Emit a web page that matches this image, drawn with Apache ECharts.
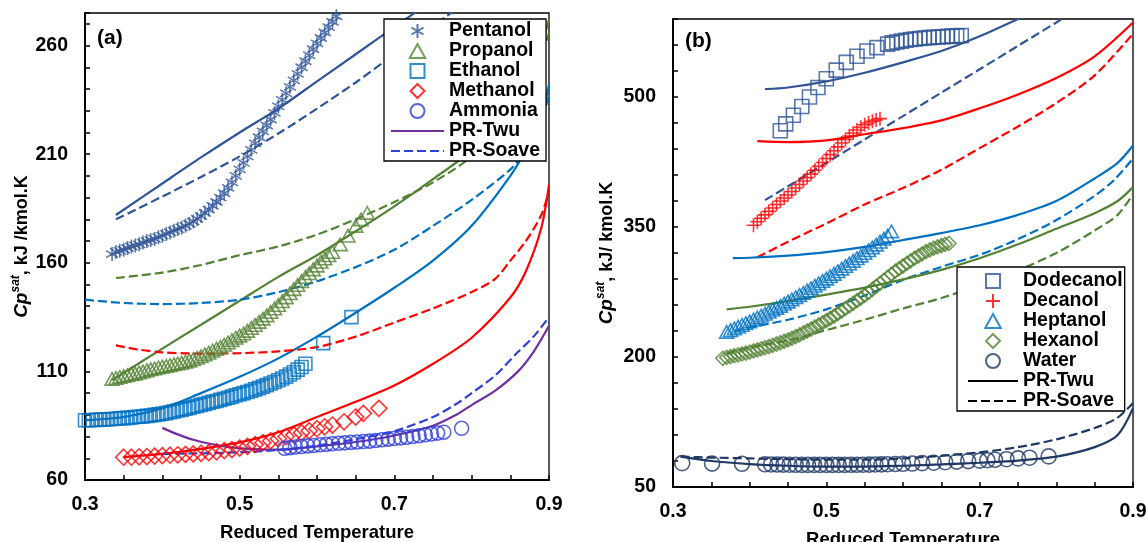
<!DOCTYPE html>
<html>
<head>
<meta charset="utf-8">
<script src="https://cdn.jsdelivr.net/npm/echarts@6/dist/echarts.min.js"></script>
<style>
  html, body { margin: 0; padding: 0; background: #fff; }
  #chart { width: 1146px; height: 542px; }
</style>
</head>
<body>
<div id="chart"></div>
<script>
// ---------- Panel (a): measured Cp_sat [Tr, kJ/kmol.K] ----------
const pentanolPts = [[0.335,164],[0.34,165],[0.345,165.5],[0.35,166],[0.355,166.8],[0.36,167.5],[0.365,168],[0.37,168.5],[0.375,169.3],[0.38,170],[0.385,170.5],[0.39,171],[0.395,171.8],[0.40,172.5],[0.405,173.3],[0.41,174],[0.415,174.8],[0.42,175.5],[0.425,176.3],[0.43,177],[0.435,178],[0.44,179],[0.445,180.2],[0.45,181.5],[0.455,183],[0.46,184.5],[0.465,186.2],[0.47,188],[0.475,190],[0.48,192],[0.485,194.5],[0.49,197],[0.495,200],[0.50,203],[0.505,206],[0.51,209],[0.515,212],[0.52,215],[0.525,217.8],[0.53,220.5],[0.535,223.2],[0.54,226],[0.545,229],[0.55,232],[0.555,235],[0.56,238],[0.565,241],[0.57,244],[0.575,247],[0.58,250],[0.585,252.8],[0.59,255.5],[0.595,258.3],[0.60,261],[0.605,263.5],[0.61,266],[0.615,268.5],[0.62,271],[0.625,273.5],[0.63,276]];
const propanolPts = [[0.335,106.5],[0.34,107],[0.345,107.5],[0.35,107.9],[0.355,108.3],[0.36,108.7],[0.365,109],[0.37,109.5],[0.375,110],[0.38,110.5],[0.385,111],[0.39,111.4],[0.395,111.8],[0.40,112.2],[0.405,112.5],[0.41,112.9],[0.415,113.3],[0.42,113.7],[0.425,114],[0.43,114.5],[0.435,115],[0.44,115.6],[0.445,116.3],[0.45,117],[0.455,117.8],[0.46,118.6],[0.465,119.5],[0.47,120.4],[0.475,121.3],[0.48,122.3],[0.485,123.3],[0.49,124.4],[0.495,125.5],[0.50,126.5],[0.505,127.5],[0.51,128.7],[0.515,130],[0.52,131.4],[0.525,132.8],[0.53,134.3],[0.535,135.8],[0.54,137.4],[0.545,139],[0.55,140.6],[0.555,142.3],[0.56,144.1],[0.565,146],[0.57,147.9],[0.575,149.8],[0.58,151.6],[0.585,153.5],[0.59,155.2],[0.595,157],[0.60,158.7],[0.605,160.5],[0.61,162],[0.615,163.5],[0.62,165],[0.63,168.5],[0.64,172.5],[0.65,177],[0.657,180],[0.665,183]];
const ethanolPts = [[0.30,87.5],[0.305,87.5],[0.31,87.6],[0.315,87.7],[0.32,87.8],[0.325,87.9],[0.33,88],[0.335,88.1],[0.34,88.2],[0.345,88.4],[0.35,88.5],[0.355,88.6],[0.36,88.8],[0.365,89],[0.37,89.1],[0.375,89.3],[0.38,89.5],[0.385,89.7],[0.39,90],[0.395,90.2],[0.40,90.5],[0.405,90.8],[0.41,91.2],[0.415,91.6],[0.42,92],[0.425,92.4],[0.43,92.8],[0.435,93.2],[0.44,93.7],[0.445,94.1],[0.45,94.6],[0.455,95],[0.46,95.5],[0.465,96],[0.47,96.4],[0.475,96.9],[0.48,97.4],[0.485,97.9],[0.49,98.4],[0.495,99],[0.50,99.5],[0.505,100],[0.51,100.5],[0.515,101.1],[0.52,101.7],[0.525,102.3],[0.53,103],[0.535,103.7],[0.54,104.4],[0.545,105.1],[0.55,105.9],[0.555,106.7],[0.56,107.6],[0.565,108.6],[0.57,109.6],[0.575,110.8],[0.58,112],[0.585,113.5],[0.608,123],[0.6445,135]];
const methanolPts = [[0.35,70.5],[0.36,70.5],[0.37,70.7],[0.38,70.8],[0.39,71],[0.40,71.2],[0.41,71.4],[0.42,71.6],[0.43,71.8],[0.44,72],[0.45,72.3],[0.46,72.6],[0.47,73],[0.48,73.5],[0.49,74],[0.50,74.7],[0.51,75.5],[0.52,76.3],[0.53,77.2],[0.54,78],[0.55,79],[0.56,80],[0.57,80.8],[0.58,81.8],[0.59,82.7],[0.60,83.6],[0.61,84.5],[0.62,85.3],[0.635,86.8],[0.65,89],[0.66,90.7],[0.68,93]];
const ammoniaPts = [[0.558,74.6],[0.565,74.9],[0.572,75.2],[0.58,75.4],[0.588,75.7],[0.596,75.9],[0.604,76.2],[0.612,76.4],[0.62,76.7],[0.628,76.9],[0.636,77.1],[0.644,77.3],[0.652,77.5],[0.66,77.7],[0.668,77.9],[0.676,78.2],[0.684,78.5],[0.692,78.8],[0.70,79.1],[0.708,79.4],[0.716,79.7],[0.724,80],[0.732,80.4],[0.74,80.8],[0.748,81.2],[0.756,81.6],[0.764,82],[0.787,83.8]];

// ---------- Panel (a): PR-Twu / PR-Soave predictions ----------
const pentanolTwu = [[0.34,182],[0.40,196.5],[0.45,208.5],[0.50,220],[0.55,231],[0.60,243.5],[0.65,256],[0.70,268.5],[0.75,281]];
const pentanolSoave = [[0.34,180],[0.40,190.5],[0.45,199.5],[0.50,209],[0.55,219.5],[0.60,231],[0.65,243],[0.70,256],[0.75,269],[0.80,282]];
const propanolTwu = [[0.335,106],[0.40,120.5],[0.45,131.5],[0.50,142.5],[0.55,153.5],[0.60,163.5],[0.65,174.5],[0.70,186],[0.75,198.5],[0.80,212],[0.85,233],[0.88,250],[0.90,272]];
const propanolSoave = [[0.34,153],[0.40,155.5],[0.45,159],[0.50,163.5],[0.55,167.5],[0.60,173],[0.65,180],[0.70,188],[0.75,197],[0.80,209],[0.85,228],[0.88,245],[0.90,266]];
const ethanolTwu = [[0.30,87.5],[0.35,89],[0.40,93],[0.45,100],[0.50,107.5],[0.55,116],[0.60,126],[0.65,137],[0.70,148.5],[0.75,161],[0.80,177],[0.85,200],[0.87,212],[0.89,228],[0.90,242]];
const ethanolSoave = [[0.30,143],[0.35,141.5],[0.40,141],[0.45,141.5],[0.50,143],[0.55,146.5],[0.60,151.5],[0.65,158],[0.70,166],[0.75,177],[0.80,189],[0.85,203],[0.87,212],[0.89,226],[0.90,237]];
const methanolTwu = [[0.35,70.5],[0.40,72],[0.45,74.3],[0.50,77.3],[0.55,82],[0.60,89],[0.65,96],[0.70,103.5],[0.75,113.5],[0.80,125.5],[0.85,144],[0.87,156],[0.89,176],[0.90,196]];
const methanolSoave = [[0.34,122],[0.37,120],[0.40,118.8],[0.43,118.3],[0.45,118.2],[0.50,118.4],[0.55,119.2],[0.60,121.2],[0.65,126],[0.70,132.5],[0.75,139],[0.80,146.5],[0.83,152.5],[0.85,161],[0.87,170],[0.89,182],[0.90,193]];
const ammoniaTwu = [[0.40,84],[0.42,81],[0.44,78.5],[0.46,76.8],[0.48,75.5],[0.50,74.6],[0.55,74],[0.60,75.5],[0.65,77.5],[0.70,80.5],[0.75,85],[0.78,90],[0.80,94.5],[0.83,101],[0.86,110],[0.88,119],[0.90,131]];
const ammoniaSoave = [[0.40,72],[0.45,72.3],[0.50,72.8],[0.55,73.8],[0.60,75.8],[0.65,78.8],[0.70,82.5],[0.75,89],[0.78,95],[0.80,100],[0.83,108],[0.86,119],[0.88,126],[0.90,135]];

// ---------- Panel (b): measured Cp_sat ----------
const dodecanolPts = [[0.44,461],[0.447,469],[0.457,479],[0.468,489],[0.478,500],[0.489,511],[0.50,521],[0.513,531],[0.526,540],[0.54,547],[0.553,553],[0.566,557],[0.58,561],[0.586,562.5],[0.592,563.5],[0.598,564.5],[0.604,565.5],[0.61,566.3],[0.616,567],[0.622,567.5],[0.628,568],[0.634,568.5],[0.64,569],[0.646,569.3],[0.652,569.6],[0.658,569.9],[0.664,570.2],[0.67,570.5],[0.676,570.8]];
const decanolPts = [[0.405,352],[0.41,356],[0.415,360],[0.42,364],[0.425,368],[0.43,372],[0.435,376],[0.44,380],[0.445,383.5],[0.45,387],[0.455,391],[0.46,395],[0.465,399],[0.47,403],[0.475,407],[0.48,411],[0.485,415.5],[0.49,420],[0.495,424.5],[0.50,429],[0.505,433.5],[0.51,438],[0.515,442.5],[0.52,447],[0.525,451],[0.53,455],[0.535,458.5],[0.54,462],[0.545,465],[0.55,468],[0.555,470],[0.56,472],[0.565,473.5],[0.57,475]];
const heptanolPts = [[0.37,229],[0.375,231],[0.38,233],[0.385,235],[0.39,237],[0.395,239],[0.40,241],[0.405,243.2],[0.41,245.5],[0.415,247.7],[0.42,250],[0.425,252.2],[0.43,254.5],[0.435,256.7],[0.44,259],[0.445,261.5],[0.45,264],[0.455,266.5],[0.46,269],[0.465,271.5],[0.47,274],[0.475,276.7],[0.48,279.5],[0.485,282.2],[0.49,285],[0.495,287.7],[0.50,290.5],[0.505,293.2],[0.51,296],[0.515,299],[0.52,302],[0.525,305],[0.53,308],[0.535,311],[0.54,314],[0.545,317],[0.55,320],[0.555,323.2],[0.56,326.5],[0.565,329.7],[0.57,333],[0.575,336.5],[0.58,340],[0.585,345]];
const hexanolPts = [[0.365,198.5],[0.37,199.5],[0.375,200.5],[0.38,201.5],[0.385,202.5],[0.39,203.5],[0.395,204.5],[0.40,205.7],[0.405,207],[0.41,208.2],[0.415,209.5],[0.42,210.7],[0.425,212],[0.43,213.5],[0.435,215],[0.44,216.5],[0.445,218],[0.45,219.7],[0.455,221.5],[0.46,223.5],[0.465,225.5],[0.47,227.7],[0.475,230],[0.48,232.2],[0.485,234.5],[0.49,237],[0.495,239.5],[0.50,242],[0.505,244.5],[0.51,247.2],[0.515,250],[0.52,253],[0.525,256],[0.53,259],[0.535,262],[0.54,265],[0.545,268],[0.55,271],[0.555,274.5],[0.56,278],[0.565,281.5],[0.57,285],[0.575,288.5],[0.58,292],[0.585,295.5],[0.59,299],[0.595,302],[0.60,305],[0.605,308],[0.61,311],[0.615,314],[0.62,316.5],[0.625,319],[0.63,321.5],[0.635,323.5],[0.64,325.5],[0.645,327],[0.65,328.5],[0.655,330],[0.66,331]];
const waterPts = [[0.312,77.5],[0.351,77],[0.39,76.8],[0.42,76.2],[0.428,76],[0.436,75.9],[0.444,75.8],[0.452,75.7],[0.46,75.6],[0.468,75.5],[0.476,75.5],[0.484,75.5],[0.492,75.5],[0.50,75.5],[0.508,75.5],[0.516,75.5],[0.524,75.5],[0.532,75.6],[0.54,75.6],[0.548,75.7],[0.556,75.8],[0.564,76],[0.572,76.1],[0.58,76.3],[0.59,76.5],[0.60,76.8],[0.612,77.1],[0.625,77.5],[0.64,78],[0.655,78.6],[0.67,79.3],[0.685,79.9],[0.70,80.4],[0.71,80.9],[0.72,81.4],[0.735,82.1],[0.75,83],[0.765,83.8],[0.79,85.3]];

// ---------- Panel (b): PR-Twu / PR-Soave predictions ----------
const dodecanolTwu = [[0.42,509],[0.45,511],[0.50,518],[0.55,528],[0.60,540],[0.65,553],[0.70,570],[0.75,590],[0.76,594]];
const dodecanolSoave = [[0.42,381],[0.45,397],[0.50,424],[0.55,451],[0.60,478],[0.65,505],[0.70,532],[0.75,559],[0.80,586],[0.82,597]];
const decanolTwu = [[0.41,449],[0.45,448],[0.50,450],[0.55,457],[0.60,464],[0.65,473],[0.70,487],[0.75,503],[0.80,522],[0.85,547],[0.90,586]];
const decanolSoave = [[0.41,315],[0.45,333],[0.50,354],[0.55,376],[0.60,395],[0.65,416],[0.70,441],[0.75,466],[0.80,493],[0.85,525],[0.90,573]];
const heptanolTwu = [[0.378,314],[0.40,314.5],[0.45,317],[0.50,321],[0.55,327],[0.60,335],[0.65,343],[0.70,352],[0.75,364],[0.80,380],[0.85,406],[0.88,424],[0.90,444]];
const heptanolSoave = [[0.38,230],[0.40,234],[0.45,243],[0.50,255],[0.55,271],[0.60,289],[0.65,304],[0.70,318],[0.75,336],[0.80,358],[0.85,386],[0.875,404],[0.90,429]];
const hexanolTwu = [[0.37,255],[0.40,258],[0.45,264.5],[0.50,272],[0.55,280],[0.60,289.5],[0.65,300.5],[0.70,314],[0.75,330],[0.80,348],[0.85,366],[0.88,380],[0.90,396]];
const hexanolSoave = [[0.37,204],[0.40,211],[0.45,219],[0.50,231],[0.55,243],[0.60,256],[0.65,268],[0.70,283],[0.75,300],[0.80,320],[0.85,346],[0.88,364],[0.90,388]];
const waterTwu = [[0.31,85],[0.35,80],[0.40,76.5],[0.45,74.5],[0.50,73.5],[0.55,73.5],[0.60,74.5],[0.65,76],[0.70,78],[0.75,80.5],[0.80,85],[0.85,96],[0.88,110],[0.90,141]];
const waterSoave = [[0.31,85],[0.35,84],[0.40,83],[0.45,82],[0.50,81.5],[0.55,81.5],[0.60,83],[0.65,86],[0.70,90],[0.75,96],[0.80,105],[0.85,118],[0.88,130],[0.90,147]];

// ---------- Tick labels ----------
const xTickLabels = [0.3, 0.5, 0.7, 0.9];
const yTickLabelsA = [60, 110, 160, 210, 260];
const yTickLabelsB = [50, 200, 350, 500];

// ---------- Styling ----------
const FONT = '"Liberation Sans", Arial, sans-serif';
const C = {
  dkblue: '#2F5597', green: '#548235', blue: '#0070C0', red: '#FF0000',
  ammonia: '#3040D8', purple: '#7030A0', navy: '#1F3864', black: '#000000'
};
const DASH = [9, 4];
// outline marker shapes as paths so legend icons keep a square aspect
const SQUARE = 'path://M0,0L10,0L10,10L0,10Z';
const TRIANGLE = 'path://M5,0L10,9L0,9Z';
const DIAMOND = 'path://M5,0L10,5L5,10L0,5Z';
const ASTERISK = 'path://M5,0L5,10M0.67,2.5L9.33,7.5M0.67,7.5L9.33,2.5';
const PLUS = 'path://M5,0L5,10M0,5L10,5';

function markers(name, data, symbol, color, size, idx) {
  return {
    name, type: 'scatter', xAxisIndex: idx, yAxisIndex: idx, data,
    symbol, symbolSize: size, symbolKeepAspect: true, z: 3, silent: true,
    itemStyle: { color: 'rgba(255,255,255,0)', borderColor: color, borderWidth: 1.6 },
    emphasis: { disabled: true }
  };
}
function curve(name, data, color, dashed, idx) {
  return {
    name, type: 'line', xAxisIndex: idx, yAxisIndex: idx, data,
    smooth: 0.3, symbol: 'none', showSymbol: false, z: 2, silent: true,
    itemStyle: { color: 'rgba(0,0,0,0)', borderWidth: 0 },
    lineStyle: { color, width: 2.2, type: dashed ? DASH : 'solid' },
    emphasis: { disabled: true }
  };
}
// line-only entries for the legend (no marker in the icon)
function key(name, color, dashed, idx) {
  return curve(name, [], color, dashed, idx);
}
const near = (list, v) => list.some(t => Math.abs(t - v) < 1e-6);

function xAxisFor(idx) {
  return {
    gridIndex: idx, type: 'value', min: 0.3, max: 0.9, interval: 0.05,
    axisLine: { onZero: false, lineStyle: { color: '#000', width: 2 } },
    axisTick: { inside: true, length: 5, lineStyle: { color: '#000', width: 1.5 } },
    splitLine: { show: false },
    axisLabel: {
      margin: 15, color: '#000', fontFamily: FONT, fontWeight: 'bold', fontSize: 19.5,
      formatter: v => near(xTickLabels, v) ? v.toFixed(1) : ''
    },
    name: 'Reduced Temperature', nameLocation: 'middle', nameGap: 43,
    nameTextStyle: { color: '#000', fontFamily: FONT, fontWeight: 'bold', fontSize: 18.5 }
  };
}
function yAxisFor(idx, min, max, interval, labels, unitText, gap) {
  return {
    gridIndex: idx, type: 'value', min, max, interval,
    axisLine: { onZero: false, lineStyle: { color: '#000', width: 2 } },
    axisTick: { inside: true, length: 5, lineStyle: { color: '#000', width: 1.5 } },
    splitLine: { show: false },
    axisLabel: {
      margin: 17, color: '#000', fontFamily: FONT, fontWeight: 'bold', fontSize: 19.5,
      formatter: v => near(labels, v) ? String(v) : ''
    },
    name: '{i|Cp}{s|sat}{t|' + unitText + '}', nameLocation: 'middle', nameGap: gap,
    nameTextStyle: {
      color: '#000', fontFamily: FONT, fontWeight: 'bold', fontSize: 18,
      rich: {
        i: { fontFamily: FONT, fontWeight: 'bold', fontStyle: 'italic', fontSize: 19, lineHeight: 24, color: '#000' },
        s: { fontFamily: FONT, fontWeight: 'bold', fontStyle: 'italic', fontSize: 12, lineHeight: 12, verticalAlign: 'top', color: '#000' },
        t: { fontFamily: FONT, fontWeight: 'bold', fontSize: 18, lineHeight: 24, color: '#000' }
      }
    }
  };
}
const legendText = { color: '#000', fontFamily: FONT, fontWeight: 'bold', fontSize: 19.5 };

const option = {
  animation: false,
  backgroundColor: '#fff',
  title: [
    { text: '(a)', left: 97, top: 28, padding: 0, textStyle: { color: '#000', fontFamily: FONT, fontWeight: 'bold', fontSize: 21 } },
    { text: '(b)', left: 685, top: 31, padding: 0, textStyle: { color: '#000', fontFamily: FONT, fontWeight: 'bold', fontSize: 21 } }
  ],
  grid: [
    { left: 85, top: 13, width: 464, height: 467, outerBoundsMode: 'none', containLabel: false,
      show: true, borderColor: '#000', borderWidth: 1.3, backgroundColor: 'transparent' },
    { left: 673, top: 19, width: 460, height: 468, outerBoundsMode: 'none', containLabel: false,
      show: true, borderColor: '#000', borderWidth: 1.3, backgroundColor: 'transparent' }
  ],
  xAxis: [xAxisFor(0), xAxisFor(1)],
  yAxis: [
    yAxisFor(0, 60, 275, 10, yTickLabelsA, ', kJ /kmol.K', 50),
    yAxisFor(1, 50, 590, 30, yTickLabelsB, ', kJ/ kmol.K', 54)
  ],
  legend: [
    {
      left: 384, top: 19, orient: 'vertical', padding: [2, 6, 0, 6], itemGap: 0,
      itemWidth: 53, itemHeight: 14, symbolKeepAspect: true,
      backgroundColor: '#fff', borderColor: '#000', borderWidth: 1.3,
      selectedMode: false, z: 10, textStyle: legendText,
      data: ['Pentanol', 'Propanol', 'Ethanol', 'Methanol', 'Ammonia', 'PR-Twu', 'PR-Soave']
    },
    {
      left: 957, top: 267, orient: 'vertical', padding: [4, 2, 0, 10], itemGap: 0,
      itemWidth: 50, itemHeight: 14, symbolKeepAspect: true,
      backgroundColor: '#fff', borderColor: '#000', borderWidth: 1.3,
      selectedMode: false, z: 10, textStyle: legendText,
      formatter: name => name.split('|')[0],
      data: ['Dodecanol', 'Decanol', 'Heptanol', 'Hexanol', 'Water', 'PR-Twu|b', 'PR-Soave|b']
    }
  ],
  series: [
    // panel (a) model curves
    curve('Pentanol Twu', pentanolTwu, C.dkblue, false, 0),
    curve('Pentanol Soave', pentanolSoave, C.dkblue, true, 0),
    curve('Propanol Twu', propanolTwu, C.green, false, 0),
    curve('Propanol Soave', propanolSoave, C.green, true, 0),
    curve('Ethanol Twu', ethanolTwu, C.blue, false, 0),
    curve('Ethanol Soave', ethanolSoave, C.blue, true, 0),
    curve('Methanol Twu', methanolTwu, C.red, false, 0),
    curve('Methanol Soave', methanolSoave, C.red, true, 0),
    curve('Ammonia Twu', ammoniaTwu, C.purple, false, 0),
    curve('Ammonia Soave', ammoniaSoave, C.ammonia, true, 0),
    // panel (a) measurements
    markers('Pentanol', pentanolPts, ASTERISK, C.dkblue, 14, 0),
    markers('Propanol', propanolPts, TRIANGLE, C.green, 14, 0),
    markers('Ethanol', ethanolPts, SQUARE, C.blue, 13, 0),
    markers('Methanol', methanolPts, DIAMOND, C.red, 16, 0),
    markers('Ammonia', ammoniaPts, 'circle', C.ammonia, 14, 0),
    key('PR-Twu', C.purple, false, 0),
    key('PR-Soave', C.ammonia, true, 0),
    // panel (b) model curves
    curve('Dodecanol Twu', dodecanolTwu, C.dkblue, false, 1),
    curve('Dodecanol Soave', dodecanolSoave, C.dkblue, true, 1),
    curve('Decanol Twu', decanolTwu, C.red, false, 1),
    curve('Decanol Soave', decanolSoave, C.red, true, 1),
    curve('Heptanol Twu', heptanolTwu, C.blue, false, 1),
    curve('Heptanol Soave', heptanolSoave, C.blue, true, 1),
    curve('Hexanol Twu', hexanolTwu, C.green, false, 1),
    curve('Hexanol Soave', hexanolSoave, C.green, true, 1),
    curve('Water Twu', waterTwu, C.navy, false, 1),
    curve('Water Soave', waterSoave, C.navy, true, 1),
    // panel (b) measurements
    markers('Dodecanol', dodecanolPts, SQUARE, C.dkblue, 14, 1),
    markers('Decanol', decanolPts, PLUS, C.red, 14, 1),
    markers('Heptanol', heptanolPts, TRIANGLE, C.blue, 14, 1),
    markers('Hexanol', hexanolPts, DIAMOND, C.green, 14, 1),
    markers('Water', waterPts, 'circle', C.navy, 15, 1),
    key('PR-Twu|b', C.black, false, 1),
    key('PR-Soave|b', C.black, true, 1)
  ]
};

const chart = echarts.init(document.getElementById('chart'), null, { renderer: 'canvas' });
chart.setOption(option);
</script>
</body>
</html>
